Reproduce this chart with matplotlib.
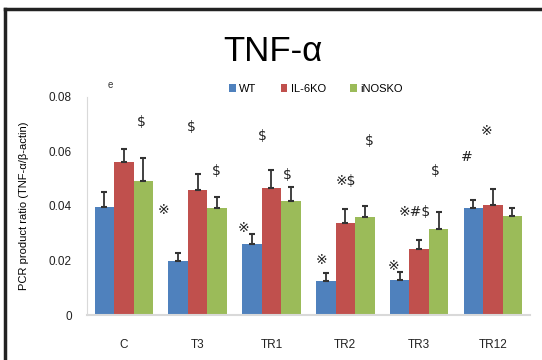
import numpy as np
import matplotlib
matplotlib.use('Agg')
from matplotlib import pyplot as plt
from matplotlib.lines import Line2D

plt.rcParams['font.family'] = ['Liberation Sans', 'DejaVu Sans', 'Noto Sans CJK JP']

# data
groups = ['C', 'T3', 'TR1', 'TR2', 'TR3', 'TR12']
series = ['WT', 'IL-6KO', 'iNOSKO']
wt = [0.0395, 0.0197, 0.0259, 0.0126, 0.0130, 0.0391]
il6 = [0.0562, 0.0458, 0.0465, 0.0336, 0.0241, 0.0404]
inos = [0.0491, 0.0391, 0.0417, 0.0360, 0.0315, 0.0364]
wt_err = [0.0055, 0.0031, 0.0037, 0.0028, 0.0027, 0.0031]
il6_err = [0.0047, 0.0060, 0.0068, 0.0052, 0.0034, 0.0059]
inos_err = [0.0086, 0.0041, 0.0051, 0.0039, 0.0062, 0.0027]

# significance marks: (text, x in category units, y value)
marks = [
    ('$', 0.23, 0.0710), ('※', 0.54, 0.0385),
    ('$', 0.92, 0.0691), ('$', 1.25, 0.0527),
    ('※', 1.62, 0.0321), ('$', 1.88, 0.0658), ('$', 2.21, 0.0515),
    ('※', 2.68, 0.0201), ('※$', 3.01, 0.0490), ('$', 3.33, 0.0640),
    ('※', 3.65, 0.0179), ('※#$', 3.94, 0.0379), ('$', 4.22, 0.0527),
    ('#', 4.65, 0.0580), ('※', 4.91, 0.0677),
]

colors = ['#4F81BD', '#C0504D', '#9BBB59']

fig = plt.figure(figsize=(5.42, 3.6), dpi=100)
ax = fig.add_axes([0.1605, 0.125, 0.817, 0.6056])

x = np.arange(len(groups))
w = 0.265
vals = [wt, il6, inos]
errs = [wt_err, il6_err, inos_err]
for i in range(3):
    ax.bar(x + (i - 1) * w, vals[i], w, color=colors[i], label=series[i],
           yerr=[np.zeros(len(groups)), errs[i]], ecolor='#333333',
           error_kw=dict(elinewidth=1.3, capsize=2.5, capthick=1.5))

for txt, mx, my in marks:
    ax.text(mx, my, txt, ha='center', va='center', fontsize=10, color='#222222',
            family=['DejaVu Sans', 'Noto Sans CJK JP'])
ax.text(-0.19, 0.0844, 'e', ha='center', va='center', fontsize=7, color='#333333',
        clip_on=False)

ax.set_xlim(-0.5, len(groups) - 0.5)
ax.set_ylim(0, 0.08)
ax.set_yticks([0, 0.02, 0.04, 0.06, 0.08])
ax.set_yticklabels(['0', '0.02', '0.04', '0.06', '0.08'])
ax.set_xticks(x)
ax.set_xticklabels(groups)
ax.tick_params(axis='both', length=0, labelsize=8.5, colors='#222222')
ax.tick_params(axis='x', pad=17)
ax.tick_params(axis='y', pad=11)
for s in ['top', 'right']:
    ax.spines[s].set_visible(False)
ax.spines['left'].set_color('#D9D9D9')
ax.spines['bottom'].set_color('#D9D9D9')
ax.spines['bottom'].set_linewidth(1.5)

ax.set_ylabel('PCR product ratio (TNF-α/β-actin)', fontsize=8, labelpad=14)

fig.text(0.504, 0.858, 'TNF-α', ha='center', va='center', fontsize=25)

fig.legend(loc='center', bbox_to_anchor=(0.583, 0.753), ncol=3, frameon=False,
           fontsize=8, handlelength=0.6, handleheight=0.6, handletextpad=0.3,
           columnspacing=2.2)

# outer frame (top and left edges visible)
fig.add_artist(Line2D([0.009, 1.0], [0.976, 0.976], color='#222222', lw=2.5,
                      transform=fig.transFigure))
fig.add_artist(Line2D([0.009, 0.009], [0.0, 0.976], color='#222222', lw=2.5,
                      transform=fig.transFigure))

fig.savefig('out.png', dpi=100)
